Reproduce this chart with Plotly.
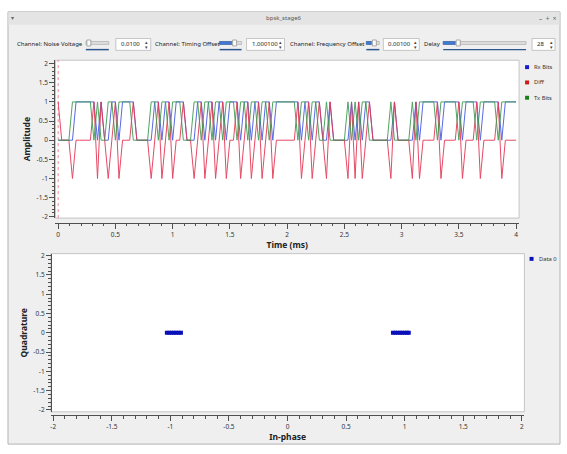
import plotly.graph_objects as go

W, H = 567, 454

# ---------------- data ----------------
sample_rate_khz = 32
tx_bits = [0,0,0,0,1,1,1,1,1,1,0,1,0,0,1,1,
           0,1,1,1,1,0,0,0,0,0,1,1,0,1,1,0,
           1,1,1,0,0,0,1,1,0,1,1,0,1,1,0,1,
           1,1,0,1,1,0,1,1,0,1,1,0,1,1,1,1,
           1,1,1,0,1,1,0,1,1,0,0,1,0,0,0,0,
           0,1,0,1,0,1,1,0,0,0,0,0,0,1,0,0,
           0,0,0,1,0,1,1,1,1,1,0,1,1,1,1,1,
           0,1,1,1,1,0,1,1,1,1,1,0,1,1,1,1,
           1]
rx_bits = [0,0,0,0,0,1,1,1,1,1,1,0,1,0,0,1,
           1,0,1,1,1,1,0,0,0,0,0,1,1,0,1,1,
           0,1,1,1,0,0,0,1,1,0,1,1,0,1,1,0,
           1,1,1,0,1,1,0,1,1,0,1,1,0,1,1,1,
           1,1,1,1,0,1,1,0,1,1,0,0,1,0,0,0,
           0,0,1,0,1,0,1,1,0,0,0,0,0,0,1,0,
           0,0,0,0,1,0,1,1,1,1,1,0,1,1,1,1,
           1,0,1,1,1,1,0,1,1,1,1,1,0,1,1,1,
           1]
diff_bits = [1,0,0,0,-1,0,0,0,0,0,1,-1,1,0,-1,0,
             1,-1,0,0,0,1,0,0,0,0,-1,0,1,-1,0,1,
             -1,0,0,1,0,0,-1,0,1,-1,0,1,-1,0,1,-1,
             0,0,1,-1,0,1,-1,0,1,-1,0,1,-1,0,0,0,
             0,0,0,1,-1,0,1,-1,0,1,0,-1,1,0,0,0,
             0,-1,1,-1,1,-1,0,1,0,0,0,0,0,-1,1,0,
             0,0,0,-1,1,-1,0,0,0,0,1,-1,0,0,0,0,
             1,-1,0,0,0,1,-1,0,0,0,0,1,-1,0,0,0,
             0]
time_ms = [i / sample_rate_khz for i in range(len(tx_bits))]

const_i = [-1.03, -1.01, -0.99, -0.97, -0.95, -0.93, -0.91,
           0.90, 0.92, 0.94, 0.96, 0.98, 1.00, 1.02, 1.035]
const_q = [0.0, 0.0, 0.0, 0.0, 0.0, 0.0, 0.0,
           0.0, 0.0, 0.0, 0.0, 0.0, 0.0, 0.0, 0.0]

time_ticks = [0, 0.5, 1, 1.5, 2, 2.5, 3, 3.5, 4]
time_tick_text = ["0", "0.5", "1", "1.5", "2", "2.5", "3", "3.5", "4"]
amp_ticks = [-2, -1.5, -1, -0.5, 0, 0.5, 1, 1.5, 2]
amp_tick_text = ["-2", "-1.5", "-1", "-0.5", "0", "0.5", "1", "1.5", "2"]

series_names = ["Rx Bits", "Diff", "Tx Bits"]
series_colors = ["rgb(70,90,225)", "rgb(228,55,85)", "rgb(60,155,80)"]
legend_colors = ["#1a1ad0", "#d01a1a", "#1a801a"]
const_name = "Data 0"
const_color = "#0a10b8"

# ---------------- helpers ----------------
def px(x):
    return x / W

def py(y):
    return 1 - y / H

shapes = []
annotations = []

def rect(x0, y0, x1, y1, fill, line=None, lw=1):
    shapes.append(dict(type="rect", xref="paper", yref="paper",
                       x0=px(x0), x1=px(x1), y0=py(y1), y1=py(y0),
                       fillcolor=fill, layer="below",
                       line=dict(color=line if line else "rgba(0,0,0,0)", width=lw if line else 0)))

def text(x, y, s, size=7, color="#333", xanchor="left"):
    annotations.append(dict(x=px(x), y=py(y), xref="paper", yref="paper", text=s,
                            showarrow=False, xanchor=xanchor, yanchor="middle",
                            font=dict(size=size, color=color)))

FONT = "Noto Sans"
CTRL = 6.0

# window
rect(7, 9, 560, 447, "#efefef", "#b4b4b4")
rect(7.5, 9.5, 559.5, 22, "#e4e4e4")
text(283, 15.5, "bpsk_stage6", size=6, color="#555", xanchor="center")
text(12, 15.5, "▾", size=6, color="#666", xanchor="center")
text(548, 15.5, "–  +  ×", size=6.5, color="#666", xanchor="center")

# controls row
CY = 42
def slider(x0, x1, fill_to, handle):
    rect(x0, CY - 3, x1, CY, "#dcdcdc", "#a8a8a8", 0.6)
    if fill_to > x0:
        rect(x0, CY - 3, fill_to, CY, "#3f7bd0", "#2d5fa8", 0.6)
    rect(handle, CY - 4.5, handle + 4, CY + 1.5, "#fafafa", "#8c8c8c", 0.7)
    rect(x0, CY + 4.5, x1, CY + 6, "#2c5590")

def spinbox(x0, x1, value):
    rect(x0, CY - 6, x1, CY + 6, "#ffffff", "#b0b0b0", 0.7)
    text(x0 + 3, CY, value, size=CTRL, color="#222")
    text(x1 - 4, CY - 2.5, "▴", size=5, color="#444", xanchor="center")
    text(x1 - 4, CY + 2.5, "▾", size=5, color="#444", xanchor="center")

text(14, CY, "Channel: Noise Voltage", size=CTRL, color="#222")
slider(85, 108, 85, 86)
spinbox(115, 150, "0.0100")
text(152, CY, "Channel: Timing Offset", size=CTRL, color="#222")
slider(219, 241, 231, 232)
spinbox(246, 284, "1.000100")
text(288, CY, "Channel: Frequency Offset", size=CTRL, color="#222")
slider(366, 379, 371, 372)
spinbox(383, 419, "0.00100")
text(422, CY, "Delay", size=CTRL, color="#222")
slider(443, 526, 455, 456)
spinbox(532, 555, "28")

# canvases
rect(54.5, 58, 519, 218, "#ffffff", "#c4c4c4", 1)
rect(50, 254, 524.3, 414.3, "#ffffff", "#c4c4c4", 1)

# trigger marker line at t = 0
shapes.append(dict(type="line", xref="x", yref="y domain", x0=0, x1=0, y0=0, y1=1,
                   line=dict(color="rgba(230,80,100,0.7)", width=1, dash="dot"), layer="below"))

# manual legends
for k, (nm, col) in enumerate(zip(series_names, legend_colors)):
    yy = 65 + k * 15.5
    rect(525, yy - 2, 529, yy + 2, col)
    text(531.5, yy, nm, size=5.8, color="#333")
rect(529.5, 257.3, 533.5, 261.3, const_color)
text(536.5, 259.3, const_name, size=5.8, color="#333")

# ---------------- figure ----------------
fig = go.Figure()
for nm, yv, col in zip(series_names, [rx_bits, diff_bits, tx_bits], series_colors):
    fig.add_trace(go.Scatter(x=time_ms, y=yv, mode="lines", name=nm,
                             line=dict(color=col, width=1), opacity=0.9, xaxis="x", yaxis="y",
                             showlegend=False))
fig.add_trace(go.Scatter(x=const_i, y=const_q, mode="markers", name=const_name,
                         marker=dict(symbol="square", size=4, color=const_color, line=dict(width=0)),
                         xaxis="x2", yaxis="y2", showlegend=False))

axis_common = dict(showline=True, linecolor="#505050", linewidth=1, ticks="outside",
                   tickcolor="#505050", tickwidth=1, ticklen=5, showgrid=False, zeroline=False,
                   tickfont=dict(size=6.5, color="#333", family=FONT),
                   minor=dict(ticks="outside", ticklen=2.5, tickcolor="#505050", dtick=0.1, tick0=0))

fig.update_layout(
    width=W, height=H, autosize=False,
    margin=dict(l=0, r=0, t=0, b=0),
    paper_bgcolor="#ffffff", plot_bgcolor="rgba(0,0,0,0)",
    font=dict(family=FONT, size=7, color="#333"),
    showlegend=False,
    xaxis=dict(axis_common, domain=[px(54.5), px(519)], range=[-0.024, 4.026],
               anchor="free", position=py(222.7),
               tickmode="array", tickvals=time_ticks, ticktext=time_tick_text,
               title=dict(text="<b>Time (ms)</b>", font=dict(size=8.5, color="#222"), standoff=0)),
    yaxis=dict(axis_common, domain=[py(218), py(58)], range=[-2.034, 2.088],
               anchor="free", position=px(53.3),
               tickmode="array", tickvals=amp_ticks, ticktext=amp_tick_text,
               title=dict(text="<b>Amplitude</b>", font=dict(size=8.5, color="#222"), standoff=3)),
    xaxis2=dict(axis_common, domain=[px(50), px(524.3)], range=[-2.02, 2.022],
                anchor="free", position=py(417.7),
                tickmode="array", tickvals=amp_ticks, ticktext=amp_tick_text,
                title=dict(text="<b>In-phase</b>", font=dict(size=8.5, color="#222"), standoff=0)),
    yaxis2=dict(axis_common, domain=[py(414.3), py(254)], range=[-2.05, 2.05],
                anchor="free", position=px(50),
                tickmode="array", tickvals=amp_ticks, ticktext=amp_tick_text,
                title=dict(text="<b>Quadrature</b>", font=dict(size=8.5, color="#222"), standoff=3)),
    shapes=shapes,
    annotations=annotations,
)

fig.write_html("out.html", config={"displayModeBar": False},
               post_script="document.body.style.margin='0px';document.body.style.overflow='hidden';")
